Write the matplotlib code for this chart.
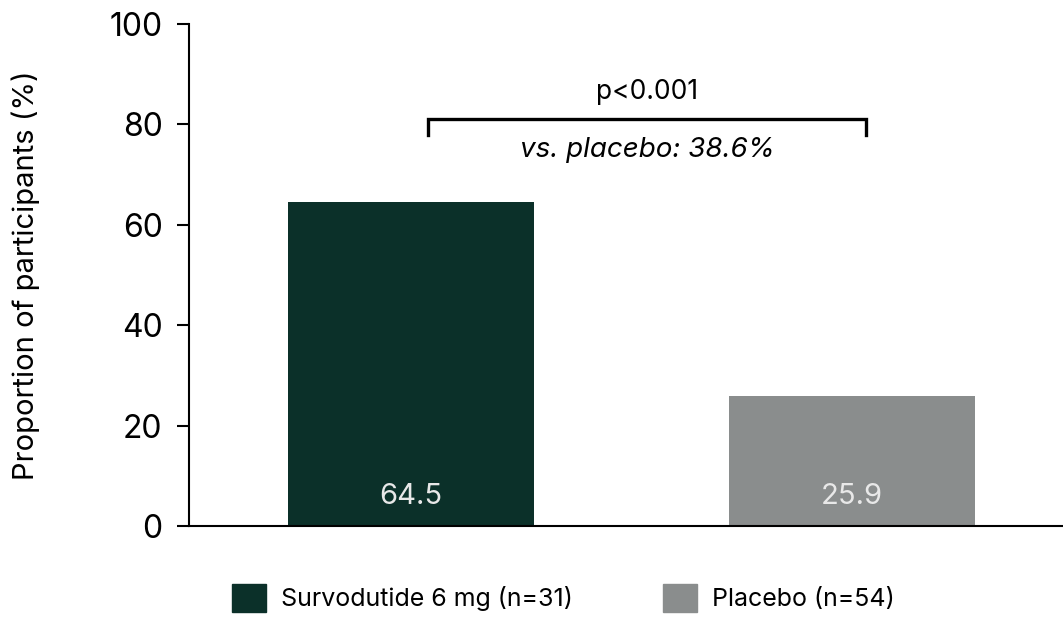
import matplotlib.pyplot as plt
from matplotlib.patches import Patch

groups = ["Survodutide 6 mg (n=31)", "Placebo (n=54)"]
values = [64.5, 25.9]
value_labels = ["64.5", "25.9"]
colors = ["#0b3029", "#8a8d8d"]
p_text = "p<0.001"
diff_text = "vs. placebo: 38.6%"

plt.rcParams['font.family'] = ['Inter', 'DejaVu Sans']

fig = plt.figure(figsize=(10.63, 6.3), dpi=100)
ax = fig.add_axes([0.1778, 0.165, 0.8222, 0.797])

x = [0, 1]
ax.bar(x, values, width=0.558, color=colors)
for xi, lab in zip(x, value_labels):
    ax.text(xi, 5.8, lab, ha='center', va='center', color='#e8e8e8', fontsize=21)

# bracket
bx0, bx1, by, bdrop = 0.0385, 1.032, 81, 3.2
ax.plot([bx0, bx0, bx1, bx1], [by - bdrop, by, by, by - bdrop], color='black',
        lw=2.4, solid_joinstyle='miter', clip_on=False)
ax.text((bx0 + bx1) / 2, 86.5, p_text, ha='center', va='center', fontsize=19)
ax.text((bx0 + bx1) / 2, 74.8, diff_text, ha='center', va='center',
        fontsize=20, style='italic')

ax.set_xlim(-0.503, 1.478)
ax.set_ylim(0, 100)
ax.set_yticks([0, 20, 40, 60, 80, 100])
ax.set_xticks([])
ax.tick_params(axis='y', labelsize=23, length=9, width=1.5, pad=10)
ax.spines['top'].set_visible(False)
ax.spines['right'].set_visible(False)
ax.spines['left'].set_linewidth(1.5)
ax.spines['bottom'].set_linewidth(1.5)
ax.set_ylabel("Proportion of participants (%)", fontsize=21, labelpad=50)

handles = [Patch(color=c) for c in colors]
fig.legend(handles, groups, loc='center', bbox_to_anchor=(0.53, 0.051), ncol=2,
           frameon=False, fontsize=18, handlelength=1.36, handleheight=1.36,
           handletextpad=0.6, columnspacing=3.6)

fig.savefig("out.png", dpi=100)
